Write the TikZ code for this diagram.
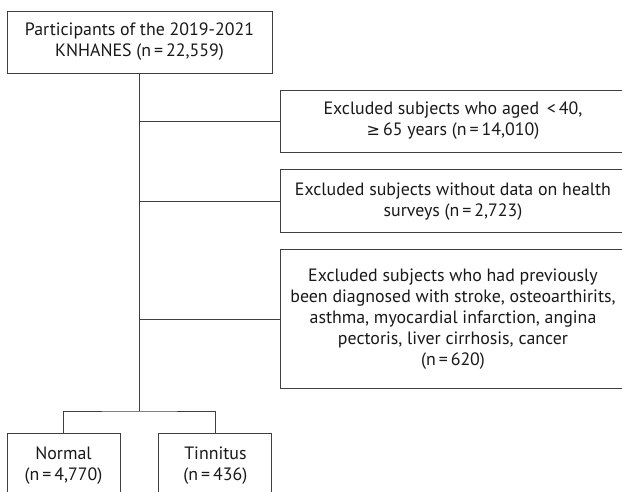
\documentclass[tikz,border=0pt]{standalone}
\usepackage{fontspec}
\setmainfont{PT Sans}
\newfontfamily\symfont{DejaVu Sans}
\usetikzlibrary{positioning}
\newcommand{\eqs}{\,=\,}
\newcommand{\gsym}{{\symfont\fontsize{12}{12}\selectfont ≥}}

\begin{document}
\begin{tikzpicture}[
    x=0.75pt, y=-0.75pt,
    box/.style={rectangle, draw=black!75, line width=0.7pt, text=black!90, align=center, inner sep=0pt, font=\fontsize{13.4}{15.75}\selectfont},
    exbox/.style={box, minimum width=259.5pt},
    groupbox/.style={box, minimum width=84.75pt, minimum height=48.75pt},
    link/.style={draw=black!75, line width=0.7pt}
]
\clip (0,0) rectangle (622,492);

\node (participants) [box, minimum width=198.75pt, minimum height=46.5pt] at (139.5,42) {Participants of the 2019-2021\\KNHANES (n\eqs22,559)};
\node (ex1) [exbox, minimum height=46.5pt] at (453,121) {Excluded subjects who aged \,<\,40,\\\gsym\,65 years (n\eqs14,010)};
\node (ex2) [exbox, minimum height=47.25pt, below=12.75pt of ex1] {Excluded subjects without data on health\\surveys (n\eqs2,723)};
\node (ex3) [exbox, minimum height=104.25pt, below=12pt of ex2] {Excluded subjects who had previously\\been diagnosed with stroke, osteoarthirits,\\asthma, myocardial infarction, angina\\pectoris, liver cirrhosis, cancer\\(n\eqs620)};
\node (normal) [groupbox] at (63.5,465.5) {Normal\\(n\eqs4,770)};
\node (tinnitus) [groupbox, right=28.5pt of normal] {Tinnitus\\(n\eqs436)};

\coordinate (split) at (139.5,411);
\draw [link] (participants) -- (split);
\draw [link] (normal.north) |- (split) -| (tinnitus.north);
\foreach \ex in {ex1,ex2,ex3}
  \draw [link] (participants.south |- \ex.west) -- (\ex.west);
\end{tikzpicture}
\end{document}
